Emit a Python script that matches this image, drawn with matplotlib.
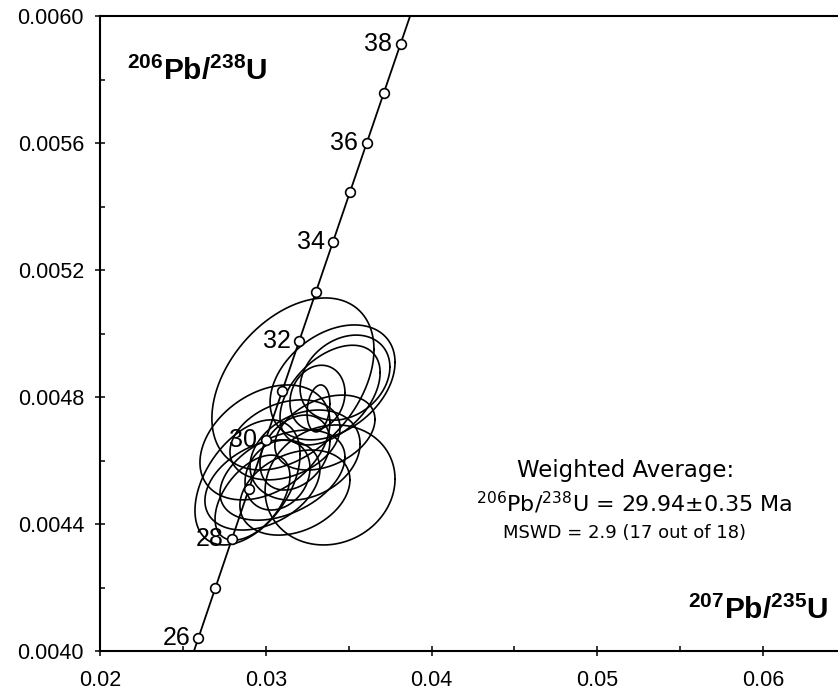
import matplotlib
matplotlib.use("Agg")
import matplotlib.pyplot as plt
import numpy as np
from matplotlib.ticker import MultipleLocator, FormatStrFormatter

# decay constants (1/yr) used for the concordia curve
lam238 = 1.55125e-10
lam235 = 9.8485e-10

# concordia age marks (Ma) and which of them get a label
mark_ages = [26, 27, 28, 29, 30, 31, 32, 33, 34, 35, 36, 37, 38]
label_ages = [26, 28, 30, 32, 34, 36, 38]

# error ellipses: centre, half-widths of bounding box, correlation
ell_x = [0.03164, 0.03403, 0.03478, 0.03388, 0.03312, 0.03318, 0.02995, 0.03116, 0.03237,
         0.03388, 0.02890, 0.02980, 0.03101, 0.03176, 0.03176, 0.02920, 0.03357, 0.03071]
ell_y = [0.004841, 0.004846, 0.004861, 0.004806, 0.004798, 0.004764, 0.004657, 0.004665, 0.004617,
         0.004523, 0.004531, 0.004523, 0.004554, 0.004499, 0.004625, 0.004483, 0.004688, 0.004554]
ell_sx = [0.00489, 0.00377, 0.00271, 0.00302, 0.00166, 0.00069, 0.00392, 0.00332, 0.00332,
          0.00392, 0.00317, 0.00347, 0.00377, 0.00332, 0.00211, 0.00226, 0.00302, 0.00196]
ell_sy = [0.000271, 0.000181, 0.000134, 0.000157, 0.000102, 0.000074, 0.000181, 0.000126, 0.000142,
          0.000189, 0.000197, 0.000142, 0.000142, 0.000134, 0.000118, 0.000134, 0.000118, 0.000110]
ell_rho = [0.4, 0.35, 0.25, 0.45, 0.15, 0.2, 0.35, 0.3, 0.25,
           0.1, 0.45, 0.35, 0.4, 0.3, 0.3, 0.5, 0.35, 0.2]

plt.rcParams['mathtext.fontset'] = 'custom'
plt.rcParams['mathtext.bf'] = 'Liberation Sans:bold'
plt.rcParams['mathtext.rm'] = 'DejaVu Sans'
plt.rcParams['font.family'] = 'Liberation Sans'

def concordia(t_ma):
    t = np.asarray(t_ma) * 1e6
    return np.exp(lam235 * t) - 1, np.exp(lam238 * t) - 1

fig = plt.figure(figsize=(8.38, 6.91), dpi=100)
ax = fig.add_axes([100 / 838, 40 / 691, 738 / 838, 635 / 691])

# ellipses
t = np.linspace(0, 2 * np.pi, 300)
for cx, cy, sx, sy, r in zip(ell_x, ell_y, ell_sx, ell_sy, ell_rho):
    ex = cx + sx * np.cos(t)
    ey = cy + sy * (r * np.cos(t) + np.sqrt(1 - r * r) * np.sin(t))
    ax.plot(ex, ey, color='black', lw=1.2, zorder=2)

# concordia curve
cx_line, cy_line = concordia(np.linspace(25, 40, 400))
ax.plot(cx_line, cy_line, color='black', lw=1.3, zorder=3)
mx, my = concordia(mark_ages)
ax.plot(mx, my, 'o', ms=7, mfc='white', mec='black', mew=1.2, zorder=4)
for a in label_ages:
    px, py = concordia(a)
    ax.annotate(str(a), (px, py), xytext=(-6, 0), textcoords='offset points',
                ha='right', va='center', fontsize=18, zorder=5)

ax.set_xlim(0.02, 0.02 + 738 / 16575)
ax.set_ylim(0.0040, 0.0060)
ax.xaxis.set_major_locator(MultipleLocator(0.01))
ax.xaxis.set_minor_locator(MultipleLocator(0.005))
ax.yaxis.set_major_locator(MultipleLocator(0.0004))
ax.yaxis.set_minor_locator(MultipleLocator(0.0002))
ax.xaxis.set_major_formatter(FormatStrFormatter('%.2f'))
ax.yaxis.set_major_formatter(FormatStrFormatter('%.4f'))
ax.tick_params(which='major', direction='inout', length=7, width=1.1, labelsize=15.5)
ax.tick_params(axis='x', which='major', pad=10)
ax.tick_params(axis='y', which='major', pad=8)
ax.tick_params(which='minor', direction='in', length=3.5, width=1.1)
ax.spines['right'].set_visible(False)
for s in ['left', 'bottom', 'top']:
    ax.spines[s].set_linewidth(1.5)

ax.text(0.0366, 0.899, r'$^{\mathbf{206}}$Pb/$^{\mathbf{238}}$U', transform=ax.transAxes,
        fontsize=21.5, fontweight='bold', ha='left', va='baseline')
ax.text(0.9865, 0.0504, r'$^{\mathbf{207}}$Pb/$^{\mathbf{235}}$U', transform=ax.transAxes,
        fontsize=21.5, fontweight='bold', ha='right', va='baseline')

ax.text(0.7127, 0.274, 'Weighted Average:', transform=ax.transAxes, family='DejaVu Sans',
        fontsize=16.5, ha='center', va='baseline')
ax.text(0.7236, 0.219, r'$^{\mathrm{206}}$Pb/$^{\mathrm{238}}$U = 29.94±0.35 Ma', transform=ax.transAxes,
        family='DejaVu Sans', fontsize=16, ha='center', va='baseline')
ax.text(0.711, 0.178, 'MSWD = 2.9 (17 out of 18)', transform=ax.transAxes, family='DejaVu Sans',
        fontsize=13, ha='center', va='baseline')

fig.savefig('out.png', dpi=100)
